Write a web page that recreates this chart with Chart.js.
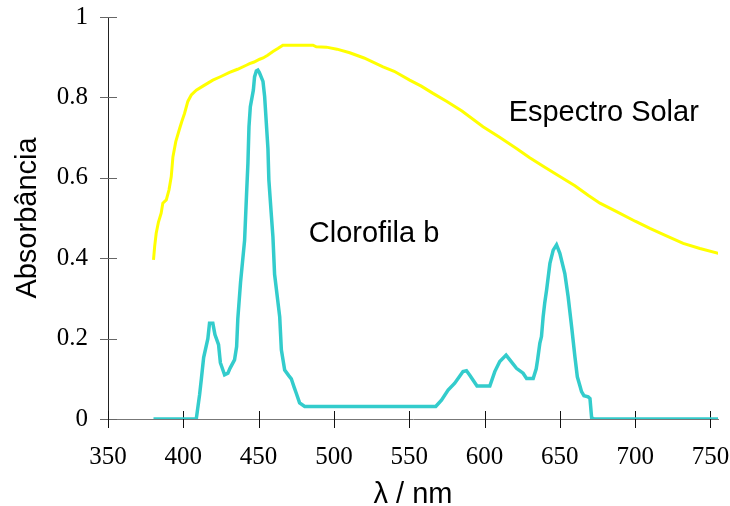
<!DOCTYPE html>
<html>
<head>
<meta charset="utf-8">
<script src="https://cdn.jsdelivr.net/npm/chart.js@4/dist/chart.umd.min.js"></script>
<style>
  html, body { margin: 0; padding: 0; background: #fff; }
  #wrap { width: 730px; height: 506px; }
</style>
</head>
<body>
<div id="wrap"><canvas id="myChart" width="730" height="506"></canvas></div>
<script>
// Solar spectrum (yellow)
const solarNm = [380.2, 381, 382, 383.5, 385.3, 386.4, 388.7, 390.5, 392, 393.1, 395, 397.5, 399, 400.8, 403, 405.3,
  408.6, 413, 419.6, 425, 430.7, 436, 441.8, 444, 447, 450.7, 453, 456, 459.5, 463, 466.1, 475, 486.1, 488.3, 495,
  502, 510.5, 520, 532.6, 540, 550.3, 558, 565.8, 575, 585, 599, 610, 621.2, 630, 640, 650, 660, 669, 676.6, 687.7,
  700, 709.8, 720, 731.9, 743, 755.2];
const solarAbs = [0.396, 0.43, 0.462, 0.49, 0.512, 0.537, 0.545, 0.57, 0.603, 0.652, 0.69, 0.722, 0.74, 0.76, 0.79, 0.806,
  0.818, 0.828, 0.843, 0.852, 0.862, 0.87, 0.88, 0.884, 0.888, 0.895, 0.898, 0.905, 0.914, 0.922, 0.93, 0.93, 0.93, 0.926, 0.925,
  0.92, 0.911, 0.898, 0.876, 0.865, 0.843, 0.828, 0.81, 0.79, 0.766, 0.727, 0.701, 0.673, 0.65, 0.626, 0.603, 0.58, 0.556, 0.537, 0.516,
  0.492, 0.474, 0.457, 0.437, 0.424, 0.412];

// Chlorophyll b (cyan)
const chlNm = [380.2, 408.6, 410.8, 412, 413.5, 416.3, 417.4, 419.6, 421, 423.4, 424.6, 427.4, 429.6, 431, 434, 435.4,
  436.2, 438, 440.7, 442, 442.9, 443.6, 444.5, 446.5, 447.3, 448.5, 449.5, 450.5, 452.9, 454, 456.2, 456.8, 458.2, 459.5,
  460.6, 464, 465.1, 467.3, 470, 471.7, 473.5, 475, 477.2, 480.6, 567.6, 571.4, 575.8, 580.2, 585.7, 588, 590.2, 595,
  603.5, 606.8, 610.1, 614.3, 616.8, 621.2, 625.6, 627.9, 632.3, 634.3, 635.2, 636.7, 637.8, 638.9, 640, 641.2, 643.4,
  645.6, 647.8, 650, 653.3, 655.5, 657.8, 660, 661.6, 663.5, 664.4, 666, 668.8, 670, 671.1, 673, 755.2];
const chlAbs = [0, 0, 0.06, 0.1, 0.153, 0.2, 0.238, 0.238, 0.21, 0.185, 0.14, 0.11, 0.114, 0.126, 0.147, 0.18,
  0.25, 0.34, 0.445, 0.56, 0.636, 0.727, 0.777, 0.818, 0.851, 0.866, 0.868, 0.862, 0.84, 0.802, 0.672, 0.595, 0.52, 0.453,
  0.36, 0.254, 0.172, 0.122, 0.108, 0.1, 0.08, 0.064, 0.04, 0.031, 0.031, 0.047, 0.072, 0.089, 0.118, 0.12, 0.109, 0.082,
  0.082, 0.118, 0.143, 0.159, 0.147, 0.126, 0.114, 0.101, 0.101, 0.125, 0.147, 0.188, 0.205, 0.254, 0.29, 0.321, 0.387,
  0.42, 0.433, 0.412, 0.362, 0.304, 0.23, 0.155, 0.105, 0.08, 0.068, 0.058, 0.055, 0.051, 0.003, 0, 0];

const xTickLabels = ["350", "400", "450", "500", "550", "600", "650", "700", "750"];
const yTickLabels = ["0", "0.2", "0.4", "0.6", "0.8", "1"];

// text labels inside the plot, placed in data units
const notes = [
  { text: "Espectro Solar", nm: 616, abs: 0.741 },
  { text: "Clorofila b", nm: 483.3, abs: 0.44 }
];

const sans = '"Liberation Sans", Arial, sans-serif';
const serif = '"Liberation Serif", "Times New Roman", serif';

function toPoints(xs, ys) {
  return xs.map((v, i) => ({ x: v, y: ys[i] }));
}

//tick marks that cross the axis lines, drawn under the curves
const crossTicks = {
  id: "crossTicks",
  beforeDatasetsDraw(chart) {
    const { ctx, scales: { x, y } } = chart;
    ctx.save();
    ctx.lineWidth = 1;
    ctx.strokeStyle = "#666";
    y.ticks.forEach(t => {
      const py = Math.round(y.getPixelForValue(t.value)) + 0.5;
      ctx.beginPath();
      ctx.moveTo(x.left - 8, py);
      ctx.lineTo(x.left + 9, py);
      ctx.stroke();
    });
    ctx.strokeStyle = "#111";
    x.ticks.forEach(t => {
      const px = Math.round(x.getPixelForValue(t.value)) + 0.5;
      ctx.beginPath();
      ctx.moveTo(px, y.bottom - 8);
      ctx.lineTo(px, y.bottom + 9);
      ctx.stroke();
    });
    ctx.restore();
  },
  afterDatasetsDraw(chart) {
    const { ctx, scales: { x, y } } = chart;
    ctx.save();
    ctx.font = "29px " + sans;
    ctx.fillStyle = "#000";
    ctx.textBaseline = "alphabetic";
    notes.forEach(n => ctx.fillText(n.text, x.getPixelForValue(n.nm), y.getPixelForValue(n.abs)));
    ctx.restore();
  }
};

let ctx = document.getElementById("myChart").getContext("2d");
let myChart = new Chart(ctx, {
  type: "line",
  data: {
    datasets: [
      {
        label: "Espectro Solar",
        data: toPoints(solarNm, solarAbs),
        borderColor: "#ffff00",
        borderWidth: 3,
        pointRadius: 0,
        fill: false,
      },
      {
        label: "Clorofila b",
        data: toPoints(chlNm, chlAbs),
        borderColor: "#33cccc",
        borderWidth: 3.5,
        pointRadius: 0,
        fill: false,
      },
    ],
  },
  options: {
    responsive: false,
    animation: false,
    layout: { padding: { top: 17, right: 12, left: 0, bottom: 0 } },
    plugins: { legend: { display: false }, tooltip: { enabled: false } },
    scales: {
      x: {
        type: "linear",
        min: 350,
        max: 755,
        afterFit: s => { s.height = 87; s.paddingLeft = 0; s.paddingRight = 0; },
        grid: { display: false, drawTicks: false },
        border: { display: true, color: "#777", width: 1 },
        ticks: {
          stepSize: 50,
          includeBounds: false,
          padding: 23,
          color: "#000",
          font: { family: serif, size: 25 },
          callback: (v, i) => xTickLabels[i],
        },
        title: {
          display: true,
          text: "λ / nm",
          color: "#000",
          font: { family: sans, size: 29 },
          padding: { top: 0, bottom: -6 },
        },
      },
      y: {
        min: 0,
        max: 1,
        afterFit: s => { s.width = 108; s.paddingTop = 0; s.paddingBottom = 0; },
        grid: { display: false, drawTicks: false },
        border: { display: true, color: "#222", width: 1 },
        ticks: {
          stepSize: 0.2,
          padding: 20,
          color: "#000",
          font: { family: serif, size: 25 },
          callback: (v, i) => yTickLabels[i],
        },
        title: {
          display: true,
          text: "Absorbância",
          color: "#000",
          font: { family: sans, size: 29 },
          padding: { top: 11, bottom: 0 },
        },
      },
    },
  },
  plugins: [crossTicks],
});
</script>
</body>
</html>
